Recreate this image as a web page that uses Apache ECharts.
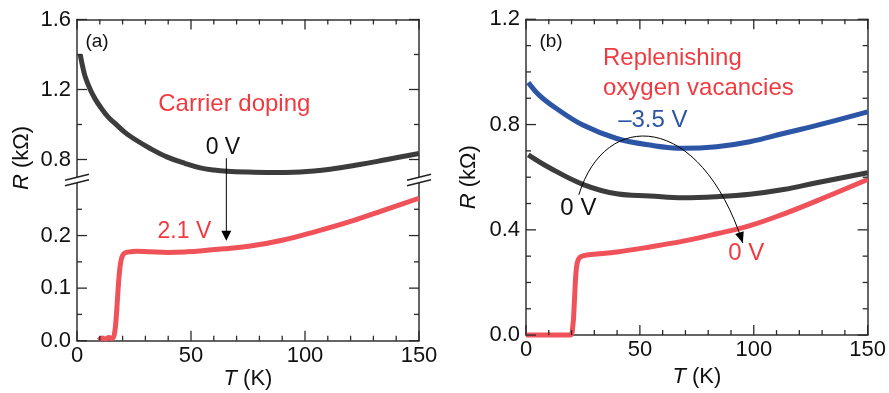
<!DOCTYPE html>
<html><head><meta charset="utf-8">
<script src="https://cdn.jsdelivr.net/npm/echarts@6/dist/echarts.min.js"></script>
<style>html,body{margin:0;padding:0;background:#fff}#c{width:889px;height:393px}</style>
</head><body><div id="c"></div>
<script>
// ---------- data (T in K, R in kΩ) ----------
const xMajor = [0, 50, 100, 150];
const xMinor = [10, 20, 30, 40, 60, 70, 80, 90, 110, 120, 130, 140];
const yMajorAUpper = [0.8, 1.2, 1.6];
const yMinorAUpper = [1.0, 1.4];
const yMajorALower = [0.0, 0.1, 0.2];
const yMinorALower = [0.05, 0.15, 0.25];
const yMajorB = [0.0, 0.4, 0.8, 1.2];
const yMinorB = [0.1, 0.2, 0.3, 0.5, 0.6, 0.7, 0.9, 1.0, 1.1];

// panel (a) 0 V
const tA0 = [1.4, 2.5, 3.6, 5.9, 8, 10.2, 13.5, 17.5, 21, 24.8, 32.1, 39.4, 47.5, 54.1, 60, 65.8, 75, 83.3, 98, 111, 124, 136, 150];
const rA0 = [1.40, 1.33, 1.273, 1.197, 1.145, 1.101, 1.045, 0.996, 0.955, 0.92, 0.863, 0.815, 0.777, 0.752, 0.740, 0.733, 0.728, 0.726, 0.729, 0.744, 0.771, 0.800, 0.834];
// panel (a) 2.1 V
const tA21 = [9.5, 11, 12.5, 14, 15.5, 16.5, 17.3, 17.9, 18.5, 19.2, 20, 21, 23, 26, 32, 40, 48, 55, 65, 76, 90, 105, 120, 135, 150];
const rA21 = [0.001, 0.005, 0.003, 0.006, 0.004, 0.015, 0.05, 0.09, 0.125, 0.15, 0.162, 0.167, 0.169, 0.17, 0.169, 0.168, 0.169, 0.171, 0.175, 0.18, 0.191, 0.208, 0.227, 0.249, 0.271];
// panel (b) -3.5 V
const tB35 = [1.0, 6.0, 13.5, 25.2, 39.8, 54.4, 69, 83.7, 98.3, 113, 127.6, 150];
const rB35 = [0.96, 0.91, 0.86, 0.797, 0.747, 0.722, 0.71, 0.716, 0.735, 0.766, 0.797, 0.848];
// panel (b) 0 V (before)
const tB0 = [1.0, 10.5, 25.2, 39.8, 54.4, 69, 83.7, 98.3, 113, 127.6, 150];
const rB0 = [0.685, 0.635, 0.572, 0.537, 0.529, 0.522, 0.526, 0.535, 0.553, 0.579, 0.617];
// panel (b) 0 V (after)
const tBr = [0, 10, 19.3, 20.5, 21.2, 21.8, 22.5, 23.7, 26.6, 40, 54.4, 69, 83.7, 98.3, 113, 127.6, 150];
const rBr = [0, 0, 0, 0.03, 0.12, 0.22, 0.275, 0.296, 0.304, 0.316, 0.335, 0.357, 0.385, 0.416, 0.46, 0.51, 0.591];

// ---------- styling ----------
const FONT = "'Liberation Sans', Arial, Helvetica, sans-serif";
const AX = '#333';
const TXT = '#111';
const RED = '#f0525a';
const RED_T = '#f03a40';
const BLUE = '#2c55a6';
const GRAY = '#3c3c3c';
const axLine = () => ({color: AX, width: 1.5});
const zip = (a, b) => a.map((v, i) => [v, b[i]]);
const nameStyle = () => ({fontSize: 22, color: TXT, fontFamily: FONT,
  rich: {i: {fontStyle: 'italic', fontSize: 22, color: TXT, fontFamily: FONT}}});

function xAx(grid, pos, labels, name) {
  return {
    type: 'value', gridIndex: grid, position: pos, min: 0, max: 150, interval: 50,
    axisLine: {show: true, onZero: false, lineStyle: axLine()},
    axisTick: {show: false}, minorTick: {show: false},
    splitLine: {show: false}, minorSplitLine: {show: false},
    axisLabel: {show: labels, fontSize: 22, color: TXT, fontFamily: FONT, margin: 4},
    name: name || '', nameLocation: 'middle', nameGap: 27, nameTextStyle: nameStyle()
  };
}
function yAx(grid, pos, min, max, labelValues, labels, name) {
  return {
    type: 'value', gridIndex: grid, position: pos, min: min, max: max,
    axisLine: {show: true, onZero: false, lineStyle: axLine()},
    axisTick: {show: false}, minorTick: {show: false},
    splitLine: {show: false}, minorSplitLine: {show: false},
    axisLabel: {show: labels, customValues: labelValues, fontSize: 22, color: TXT, fontFamily: FONT,
      margin: 6, formatter: v => v.toFixed(1)},
    name: name || '', nameLocation: 'middle', nameGap: 46, nameRotate: 90, nameTextStyle: nameStyle()
  };
}

const xAxes = [
  xAx(0, 'top', false),
  xAx(1, 'bottom', true, '{i|T} (K)'),
  xAx(2, 'bottom', true, '{i|T} (K)'),
  xAx(2, 'top', false)
];
const yAxes = [
  yAx(0, 'left', 0.7, 1.6, yMajorAUpper, true),
  yAx(0, 'right', 0.7, 1.6, yMajorAUpper, false),
  yAx(1, 'left', 0, 0.3, yMajorALower, true),
  yAx(1, 'right', 0, 0.3, yMajorALower, false),
  yAx(2, 'left', 0, 1.2, yMajorB, true, '{i|R} (kΩ)'),
  yAx(2, 'right', 0, 1.2, yMajorB, false)
];

function lineSeries(x, y, data, color) {
  return {type: 'line', xAxisIndex: x, yAxisIndex: y, data: data, showSymbol: false,
    smooth: 0.4, clip: false, silent: true,
    lineStyle: {color: color, width: 5}, z: 3};
}

const chart = echarts.init(document.getElementById('c'), null, {renderer: 'canvas'});
chart.setOption({
  animation: false,
  grid: [
    {show: false, left: 77, top: 19.5, width: 342, height: 157.5},
    {show: false, left: 77, top: 183, width: 342, height: 157.7},
    {show: false, left: 526, top: 19.3, width: 342, height: 320}
  ],
  xAxis: xAxes,
  yAxis: yAxes,
  series: [
    lineSeries(0, 0, zip(tA0, rA0), GRAY),
    lineSeries(1, 2, zip(tA21, rA21), RED),
    lineSeries(2, 4, zip(tB0, rB0), GRAY),
    lineSeries(2, 4, zip(tBr, rBr), RED),
    lineSeries(2, 4, zip(tB35, rB35), BLUE)
  ]
});

// ---------- coordinate helpers ----------
const pA = p => chart.convertToPixel({xAxisIndex: 0, yAxisIndex: 0}, p);
const pAl = p => chart.convertToPixel({xAxisIndex: 1, yAxisIndex: 2}, p);
const pB = p => chart.convertToPixel({xAxisIndex: 2, yAxisIndex: 4}, p);

const g = [];
// ---------- inside ticks on all frame sides ----------
function tick(p, dx, dy) {
  g.push({type: 'line', silent: true, z: 11,
    shape: {x1: p[0], y1: p[1], x2: p[0] + dx, y2: p[1] + dy},
    style: {stroke: '#2a2a2a', lineWidth: 1.3}});
}
function xTicks(conv, yEdge, dir) {
  xMajor.forEach(t => tick(conv([t, yEdge]), 0, 10 * dir));
  xMinor.forEach(t => tick(conv([t, yEdge]), 0, 5 * dir));
}
function yTicks(conv, majors, minors) {
  majors.forEach(r => { tick(conv([0, r]), 10, 0); tick(conv([150, r]), -10, 0); });
  minors.forEach(r => { tick(conv([0, r]), 5, 0); tick(conv([150, r]), -5, 0); });
}
xTicks(pA, 1.6, 1);
yTicks(pA, yMajorAUpper, yMinorAUpper);
xTicks(pAl, 0, -1);
yTicks(pAl, yMajorALower, yMinorALower);
xTicks(pB, 0, -1);
xTicks(pB, 1.2, 1);
yTicks(pB, yMajorB, yMinorB);

// ---------- annotations ----------
function txt(pt, text, size, color, align, extra) {
  return {type: 'text', x: pt[0], y: pt[1], silent: true, z: 10,
    style: Object.assign({text: text, fill: color, font: size + 'px ' + FONT,
      align: align || 'center', verticalAlign: 'middle'}, extra || {})};
}
function arrowHead(tip, from, len, wid) {
  const dx = tip[0] - from[0], dy = tip[1] - from[1];
  const L = Math.hypot(dx, dy), ux = dx / L, uy = dy / L;
  const bx = tip[0] - ux * len, by = tip[1] - uy * len;
  return {type: 'polygon', silent: true, z: 10,
    shape: {points: [tip, [bx - uy * wid / 2, by + ux * wid / 2], [bx + uy * wid / 2, by - ux * wid / 2]]},
    style: {fill: '#000'}};
}

g.push(txt(pA([8.8, 1.471]), '(a)', 19, TXT));
g.push(txt(pB([11, 1.115]), '(b)', 19, TXT));
// y-axis title of panel (a), centred on the broken axis
g.push({type: 'text', x: 22, y: 158, rotation: Math.PI / 2, silent: true, z: 10,
  style: {text: '{i|R} (kΩ)', font: '22px ' + FONT, fill: TXT, align: 'center', verticalAlign: 'middle',
    rich: {i: {fontStyle: 'italic', fontSize: 22, fontFamily: FONT, fill: TXT}}}});
g.push(txt(pA([69, 1.117]), 'Carrier doping', 24, RED_T));
g.push(txt(pA([64, 0.866]), '0 V', 23, TXT));
g.push(txt(pAl([47.1, 0.208]), '2.1 V', 23, RED_T));
const aS = pA([65.5, 0.807]), aE = pAl([65.5, 0.19]);
g.push({type: 'line', silent: true, z: 10, shape: {x1: aS[0], y1: aS[1], x2: aE[0], y2: aE[1] - 6},
  style: {stroke: '#000', lineWidth: 1}});
g.push(arrowHead(aE, aS, 10, 10));
// axis break marks
const brTop = pA([0, 0.7])[1], brBot = pAl([0, 0.3])[1];
const brY = (brTop + brBot) / 2;
[pA([0, 0.7])[0], pA([150, 0.7])[0]].forEach(ax => {
  [-2.8, 2.8].forEach(o => {
    g.push({type: 'line', silent: true, z: 10,
      shape: {x1: ax - 12, y1: brY + o + 3, x2: ax + 12, y2: brY + o - 3},
      style: {stroke: '#222', lineWidth: 1.5}});
  });
});
g.push(txt(pB([33.8, 0.995]), 'Replenishing\noxygen vacancies', 24, RED_T, 'left', {lineHeight: 30}));
g.push(txt(pB([55.7, 0.817]), '–3.5 V', 24, BLUE));
g.push(txt(pB([23, 0.483]), '0 V', 24, TXT));
g.push(txt(pB([96.7, 0.31]), '0 V', 24, RED_T));
const c0 = pB([23.2, 0.533]), c1 = pB([34.6, 0.86]), c2 = pB([76.3, 0.852]), c3 = pB([95.2, 0.35]);
g.push({type: 'bezierCurve', silent: true, z: 10,
  shape: {x1: c0[0], y1: c0[1], cpx1: c1[0], cpy1: c1[1], cpx2: c2[0], cpy2: c2[1], x2: c3[0], y2: c3[1]},
  style: {stroke: '#000', lineWidth: 1, fill: 'none'}});
g.push(arrowHead(c3, c2, 11, 9));

chart.setOption({graphic: g});
</script>
</body></html>
